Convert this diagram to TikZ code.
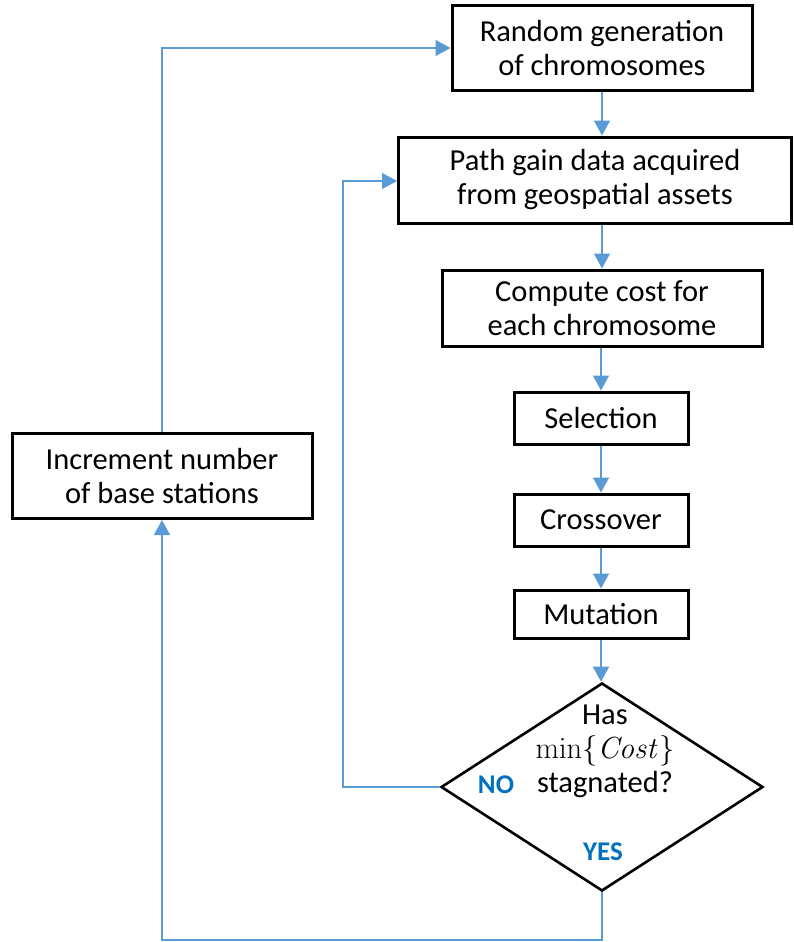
\RequirePackage{fix-cm}
\documentclass[tikz,border=0pt]{standalone}
\usepackage[no-math]{fontspec}
\setmainfont{Carlito}
\usetikzlibrary{arrows.meta,shapes.geometric}
\definecolor{flowline}{HTML}{5B9BD5}
\definecolor{answer}{HTML}{0070C0}
\begin{document}
\begin{tikzpicture}[x=1pt,y=-1pt,
  every node/.style={font=\fontsize{30.5}{34}\selectfont},
  procbox/.style={draw=black,line width=3pt,align=center,inner sep=0pt},
  flow/.style={draw=flowline,line width=1.6pt,-{Triangle[length=15pt,width=16pt]}},
  reply/.style={text=answer,font=\fontsize{27}{30}\selectfont\bfseries}]
\useasboundingbox (0,0) rectangle (794,942);
% process boxes (centre, width, height in px-sized points)
\node[procbox,minimum width=300,minimum height=84] (rand) at (602,48) {Random generation\\of chromosomes};
\node[procbox,minimum width=393,minimum height=86] (path) at (595,180) {Path gain data acquired\\from geospatial assets};
\node[procbox,minimum width=320,minimum height=76] (cost) at (602,308) {Compute cost for\\each chromosome};
\node[procbox,minimum width=174,minimum height=52] (sel) at (601,418) {Selection};
\node[procbox,minimum width=174,minimum height=52] (cross) at (601,520) {Crossover};
\node[procbox,minimum width=174,minimum height=48] (mut) at (601,614) {Mutation};
\node[procbox,minimum width=300,minimum height=85] (inc) at (162,476) {Increment number\\of base stations};
% decision
\node[draw=black,line width=2.6pt,diamond,minimum width=322,minimum height=208,inner sep=0pt] (dec) at (602,787) {};
\node[align=center,font=\fontsize{30.5}{33}\selectfont] (q) at (605,751) {Has\\[1pt]$\min\{\mathit{Cost}\}$\\[1pt]stagnated?};
\node[reply] (no) at (496,785) {NO};
\node[reply] (yes) at (603,852) {YES};
% main flow
\draw[flow] (rand.south) -- (rand.south |- path.north);
\draw[flow] (path.south -| rand.south) -- (cost.north -| rand.south);
\draw[flow] (cost.south -| sel.north) -- (sel.north);
\draw[flow] (sel.south) -- (cross.north);
\draw[flow] (cross.south) -- (mut.north);
\draw[flow] (mut.south) -- (mut.south |- dec.north);
% loops back
\coordinate (nocorner) at (343,181);
\draw[flow] (dec.west) -| (nocorner) -- (path.west |- nocorner);
\coordinate (yescorner) at (602,940);
\draw[flow] (dec.south) -- (yescorner) -| (inc.south);
\draw[flow] (inc.north) |- (rand.west);
\end{tikzpicture}
\end{document}
